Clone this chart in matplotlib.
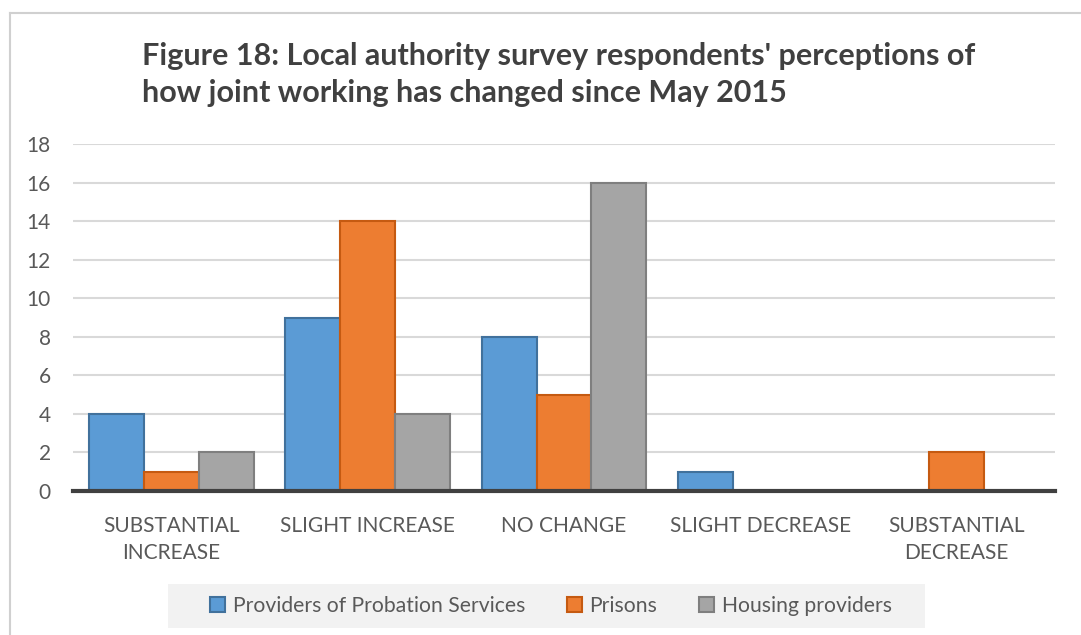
import matplotlib
matplotlib.use("Agg")
import matplotlib.pyplot as plt
import numpy as np
from matplotlib.lines import Line2D
from matplotlib.patches import Rectangle

categories = ["SUBSTANTIAL\nINCREASE", "SLIGHT INCREASE", "NO CHANGE",
              "SLIGHT DECREASE", "SUBSTANTIAL\nDECREASE"]
series_names = ["Providers of Probation Services", "Prisons", "Housing providers"]
probation = [4, 9, 8, 1, 0]
prisons = [1, 14, 5, 0, 2]
housing = [2, 4, 16, 0, 0]
y_ticks = [0, 2, 4, 6, 8, 10, 12, 14, 16, 18]

title_lines = ["Figure 18: Local authority survey respondents' perceptions of",
               "how joint working has changed since May 2015"]

face_colors = ["#5B9BD5", "#ED7D31", "#A5A5A5"]
edge_colors = ["#41719C", "#C55A11", "#7F7F7F"]
text_color = "#595959"

plt.rcParams["font.family"] = ["Lato", "DejaVu Sans"]

W, H = 1081, 635
fig = plt.figure(figsize=(W / 100, H / 100), dpi=100)
fig.patch.set_facecolor("white")

ax = fig.add_axes([73 / W, 1 - 491 / H, (1055 - 73) / W, (491 - 144) / H])

x = np.arange(len(categories))
bw = 0.28
for i, (vals, fc, ec, name) in enumerate(zip([probation, prisons, housing],
                                             face_colors, edge_colors, series_names)):
    heights = np.array(vals, dtype=float)
    xs = x + (i - 1) * bw
    mask = heights > 0
    ax.bar(xs[mask], heights[mask], width=bw, color=fc, edgecolor=ec,
           linewidth=1.5, label=name, zorder=3)

ax.set_xlim(-0.5, len(categories) - 0.5)
ax.set_ylim(0, 18)
ax.set_yticks(y_ticks)
ax.set_xticks(x)
ax.set_xticklabels(categories, linespacing=1.45)
ax.grid(axis="y", color="#D9D9D9", linewidth=1.5, zorder=0)
ax.set_axisbelow(True)
for s in ["top", "right", "left"]:
    ax.spines[s].set_visible(False)
ax.spines["bottom"].set_color("#404040")
ax.spines["bottom"].set_linewidth(3)
ax.spines["bottom"].set_zorder(4)
ax.tick_params(axis="both", length=0, labelsize=15, labelcolor=text_color)
ax.tick_params(axis="y", pad=16)
ax.tick_params(axis="x", pad=18)
for lbl in ax.get_xticklabels():
    lbl.set_verticalalignment("top")

# Title
for line, base in zip(title_lines, [65, 102]):
    fig.text(142 / W, 1 - base / H, line, fontsize=22, fontweight="bold",
             color="#404040", va="baseline", ha="left")

# Legend panel and entries
fig.add_artist(Rectangle((168 / W, 1 - 628 / H), (925 - 168) / W, 44 / H,
                         transform=fig.transFigure, facecolor="#F2F2F2",
                         edgecolor="none", zorder=1))
leg = fig.legend(loc="center", bbox_to_anchor=(551 / W, 1 - 606 / H), ncol=3,
                 frameon=False, fontsize=15.2, handlelength=0.7, handleheight=0.7,
                 handletextpad=0.35, columnspacing=2.0, borderpad=0.3,
                 borderaxespad=0)
leg.set_zorder(2)
for t in leg.get_texts():
    t.set_color(text_color)

# Chart area border
fig.add_artist(Line2D([9.5 / W, 9.5 / W], [0, 1 - 12.5 / H], color="#D0D0D0",
                      linewidth=1.5, transform=fig.transFigure))
fig.add_artist(Line2D([9.5 / W, 1], [1 - 12.5 / H, 1 - 12.5 / H], color="#D0D0D0",
                      linewidth=1.5, transform=fig.transFigure))

fig.savefig("out.png", dpi=100)
